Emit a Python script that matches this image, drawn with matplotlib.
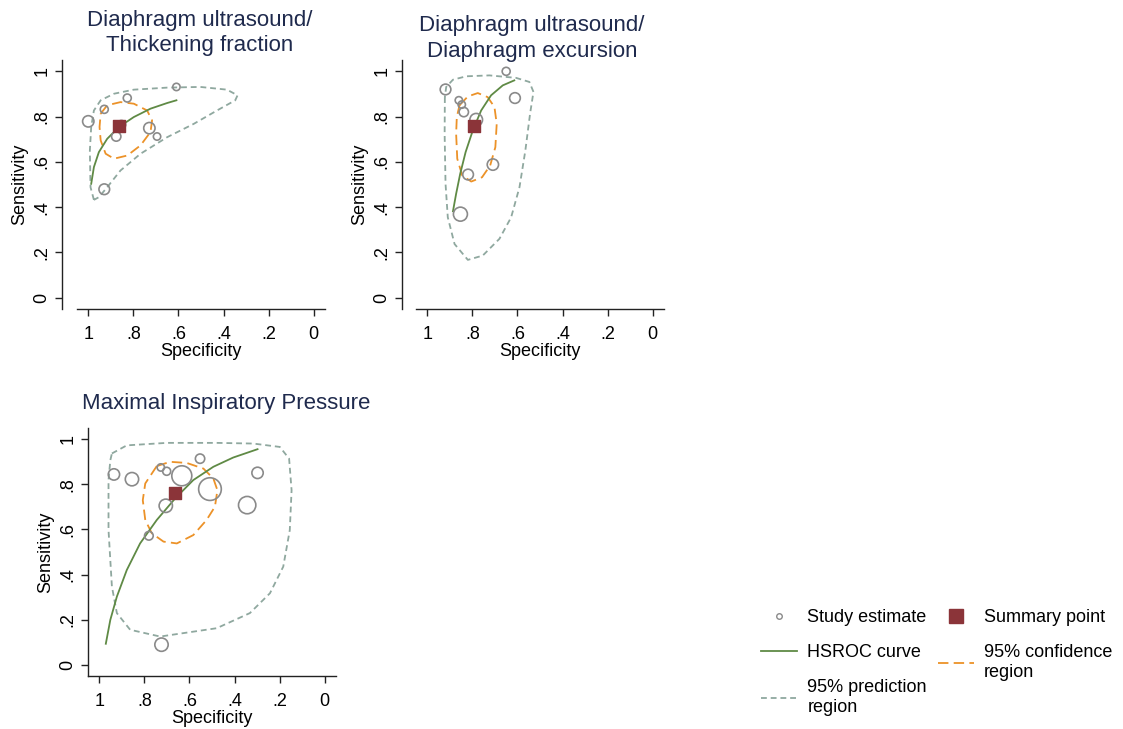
import numpy as np
import matplotlib.pyplot as plt
from matplotlib.lines import Line2D

plt.rcParams['font.family'] = ['Liberation Sans', 'DejaVu Sans']
plt.rcParams['lines.scale_dashes'] = False

# ---- Panel 1: Diaphragm ultrasound / Thickening fraction
tf_spec = [1.000, 0.929, 0.827, 0.609, 0.853, 0.876, 0.729, 0.695, 0.929]
tf_sens = [0.779, 0.832, 0.882, 0.931, 0.764, 0.712, 0.749, 0.712, 0.479]
tf_wt = [17, 12, 12, 11, 13, 14, 17, 11, 16]
tf_summary = (0.864, 0.760)
tf_curve_spec = [0.987, 0.975, 0.953, 0.916, 0.864, 0.798, 0.724, 0.650, 0.609]
tf_curve_sens = [0.503, 0.577, 0.643, 0.702, 0.754, 0.798, 0.835, 0.860, 0.872]
tf_conf_spec = [0.945, 0.916, 0.857, 0.798, 0.739, 0.717, 0.724, 0.768, 0.827, 0.886, 0.923, 0.945, 0.950, 0.945]
tf_conf_sens = [0.813, 0.850, 0.864, 0.857, 0.827, 0.783, 0.732, 0.673, 0.628, 0.614, 0.636, 0.695, 0.754, 0.813]
tf_pred_spec = [0.975, 0.990, 0.993, 0.987, 0.975, 0.945, 0.886, 0.798, 0.650, 0.503, 0.385, 0.338,
                0.348, 0.429, 0.532, 0.650, 0.768, 0.857, 0.916, 0.953, 0.975]
tf_pred_sens = [0.432, 0.488, 0.650, 0.754, 0.827, 0.872, 0.901, 0.919, 0.928, 0.931, 0.919, 0.894,
                0.872, 0.827, 0.768, 0.709, 0.636, 0.562, 0.488, 0.444, 0.432]

# ---- Panel 2: Diaphragm ultrasound / Diaphragm excursion
de_spec = [0.919, 0.650, 0.611, 0.860, 0.847, 0.838, 0.783, 0.709, 0.819, 0.853]
de_sens = [0.920, 1.000, 0.882, 0.872, 0.853, 0.820, 0.786, 0.588, 0.544, 0.369]
de_wt = [16, 12, 16, 11, 11, 14, 19, 17, 16, 21]
de_summary = (0.792, 0.758)
de_curve_spec = [0.886, 0.872, 0.854, 0.830, 0.798, 0.761, 0.717, 0.665, 0.614]
de_curve_sens = [0.382, 0.459, 0.547, 0.643, 0.739, 0.827, 0.894, 0.938, 0.960]
de_conf_spec = [0.857, 0.820, 0.776, 0.732, 0.702, 0.692, 0.698, 0.721, 0.757, 0.805, 0.845, 0.867, 0.872, 0.869, 0.857]
de_conf_sens = [0.850, 0.889, 0.904, 0.886, 0.842, 0.768, 0.665, 0.584, 0.532, 0.513, 0.540, 0.614, 0.724, 0.798, 0.850]
de_pred_spec = [0.922, 0.923, 0.919, 0.909, 0.879, 0.820, 0.754, 0.680, 0.628, 0.591, 0.565, 0.544,
                0.529, 0.547, 0.606, 0.724, 0.827, 0.886, 0.916, 0.922]
de_pred_sens = [0.886, 0.724, 0.503, 0.355, 0.237, 0.167, 0.186, 0.260, 0.355, 0.488, 0.650, 0.813,
                0.909, 0.953, 0.971, 0.982, 0.978, 0.963, 0.931, 0.886]

# ---- Panel 3: Maximal Inspiratory Pressure
mip_spec = [0.935, 0.855, 0.727, 0.701, 0.634, 0.553, 0.509, 0.705, 0.780, 0.344, 0.298, 0.724]
mip_sens = [0.844, 0.823, 0.875, 0.858, 0.838, 0.914, 0.779, 0.705, 0.572, 0.708, 0.851, 0.089]
mip_wt = [17, 20, 11, 12, 30, 14, 34, 20, 13, 26, 17, 20]
mip_summary = (0.664, 0.760)
mip_curve_spec = [0.971, 0.951, 0.922, 0.878, 0.819, 0.745, 0.664, 0.583, 0.494, 0.406, 0.298]
mip_curve_sens = [0.093, 0.199, 0.302, 0.420, 0.538, 0.642, 0.737, 0.819, 0.878, 0.919, 0.956]
mip_conf_spec = [0.745, 0.686, 0.612, 0.538, 0.494, 0.476, 0.487, 0.524, 0.583, 0.656, 0.715, 0.767, 0.796, 0.807, 0.796, 0.745]
mip_conf_sens = [0.881, 0.900, 0.895, 0.870, 0.826, 0.774, 0.701, 0.642, 0.575, 0.538, 0.546, 0.583, 0.642, 0.730, 0.804, 0.881]
mip_pred_spec = [0.944, 0.878, 0.701, 0.479, 0.317, 0.199, 0.158, 0.147, 0.155, 0.184, 0.243, 0.332,
                 0.479, 0.730, 0.863, 0.922, 0.944, 0.959, 0.959, 0.951, 0.944]
mip_pred_sens = [0.937, 0.973, 0.984, 0.984, 0.981, 0.966, 0.914, 0.774, 0.597, 0.435, 0.317, 0.229,
                 0.162, 0.125, 0.155, 0.229, 0.347, 0.597, 0.819, 0.907, 0.937]

ticks = [1, 0.8, 0.6, 0.4, 0.2, 0]
tick_labels = ['1', '.8', '.6', '.4', '.2', '0']

c_study = '#8a8a8a'
c_summ = '#8b3439'
c_curve = '#5f8a45'
c_conf = '#ec9228'
c_pred = '#8fa89f'
c_title = '#1f2a4d'
pred_dash = (4.2, 2.8)
conf_dash = (7.5, 3.8)

W, H = 1123, 729
fig = plt.figure(figsize=(W / 100, H / 100), dpi=100)


def panel(rect, spine_off, spec, sens, wt, summ, cs, cy, fs, fy, ps, py):
    ax = fig.add_axes([rect[0] / W, 1 - rect[3] / H, (rect[2] - rect[0]) / W, (rect[3] - rect[1]) / H])
    ax.set_xlim(1.05, -0.05)
    ax.set_ylim(-0.05, 1.05)
    ax.plot(ps, py, color=c_pred, lw=1.3, dashes=pred_dash)
    ax.plot(fs, fy, color=c_conf, lw=1.3, dashes=conf_dash)
    ax.plot(cs, cy, color=c_curve, lw=1.3)
    ax.scatter(spec, sens, s=[(2 * w / 3 * 0.72) ** 2 for w in wt], facecolors='none',
               edgecolors=c_study, linewidths=1.2, zorder=3)
    ax.scatter([summ[0]], [summ[1]], marker='s', s=85, color=c_summ, zorder=4)
    ax.spines['top'].set_visible(False)
    ax.spines['right'].set_visible(False)
    ax.spines['left'].set_position(('outward', spine_off))
    for sp in ['left', 'bottom']:
        ax.spines[sp].set_color('#222222')
        ax.spines[sp].set_linewidth(1.0)
    ax.set_xticks(ticks)
    ax.set_xticklabels(tick_labels)
    ax.set_yticks(ticks)
    ax.set_yticklabels(tick_labels, rotation=90, va='center')
    ax.tick_params(labelsize=13, length=5.3, width=1, color='#222222')
    ax.tick_params(axis='x', pad=7)
    ax.tick_params(axis='y', pad=3)
    ax.set_xlabel('Specificity', fontsize=13, labelpad=0)
    ax.set_ylabel('Sensitivity', fontsize=13, labelpad=4)
    return ax


panel((77, 60, 325, 309), 10.8, tf_spec, tf_sens, tf_wt, tf_summary,
      tf_curve_spec, tf_curve_sens, tf_conf_spec, tf_conf_sens, tf_pred_spec, tf_pred_sens)
panel((416, 60, 664, 309), 10.0, de_spec, de_sens, de_wt, de_summary,
      de_curve_spec, de_curve_sens, de_conf_spec, de_conf_sens, de_pred_spec, de_pred_sens)
panel((88, 428, 336, 676), 0, mip_spec, mip_sens, mip_wt, mip_summary,
      mip_curve_spec, mip_curve_sens, mip_conf_spec, mip_conf_sens, mip_pred_spec, mip_pred_sens)

fig.text(200 / W, 1 - 33 / H, 'Diaphragm ultrasound/\nThickening fraction', ha='center', va='center',
         fontsize=16, color=c_title, linespacing=1.3)
fig.text(532 / W, 1 - 38.5 / H, 'Diaphragm ultrasound/\nDiaphragm excursion', ha='center', va='center',
         fontsize=16, color=c_title, linespacing=1.3)
fig.text(226 / W, 1 - 403 / H, 'Maximal Inspiratory Pressure', ha='center', va='center',
         fontsize=16, color=c_title)

handles = [
    Line2D([], [], ls='none', marker='o', markersize=4, markerfacecolor='none',
           markeredgecolor=c_study, markeredgewidth=1.0),
    Line2D([], [], color=c_curve, lw=1.3),
    Line2D([], [], color=c_pred, lw=1.3, dashes=pred_dash),
    Line2D([], [], ls='none', marker='s', markersize=9.5, color=c_summ),
    Line2D([], [], color=c_conf, lw=1.3, dashes=conf_dash),
]
labels = ['Study estimate', 'HSROC curve', '95% prediction\nregion', 'Summary point',
          '95% confidence\nregion']
fig.legend(handles, labels, loc='upper left', bbox_to_anchor=(745 / W, 1 - 593 / H), ncol=2,
           frameon=False, fontsize=13, handlelength=2.0, handletextpad=0.55, columnspacing=0.6,
           labelspacing=1.0)

fig.savefig('out.png', dpi=100)
